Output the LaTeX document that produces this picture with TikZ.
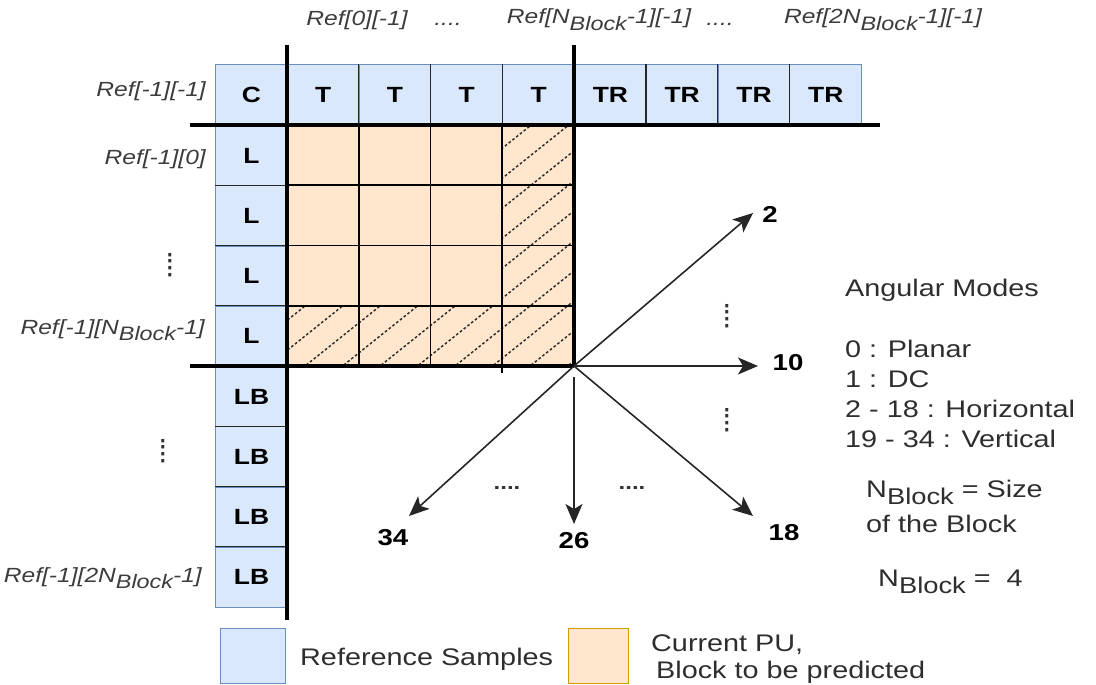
\documentclass[tikz,border=0pt]{standalone}
\usepackage{fontspec}
\setmainfont{Liberation Sans}[FakeStretch=1.2]
\usetikzlibrary{arrows.meta}
\definecolor{refblue}{HTML}{DAE8FC}
\definecolor{refblueline}{HTML}{6C8EBF}
\definecolor{puorange}{HTML}{FFE6CC}
\definecolor{puorangeline}{HTML}{D79B00}
\definecolor{txtgray}{HTML}{2E2E2E}
\definecolor{lblgray}{HTML}{3C3C3C}
\newcommand\blk{\raisebox{-0.3em}{\scalebox{0.95}{Block}}}

\begin{document}
\begin{tikzpicture}[x=1pt,y=-1pt,
  bcell/.style={draw=refblueline, fill=refblue, line width=1pt,
    minimum width=71.8pt, minimum height=60.25pt, anchor=north west,
    inner sep=0pt, font=\fontsize{22}{26}\selectfont\bfseries, text=black},
  sep/.style={draw=black!85, line width=1.4pt},
  grid/.style={draw=black, line width=1.6pt},
  axis/.style={draw=black, line width=3.2pt},
  hatch/.style={draw=black!85, line width=1.4pt, dash pattern=on 2.6pt off 2.2pt},
  reflbl/.style={font=\fontsize{20.5}{24}\selectfont\itshape, text=lblgray, inner sep=0pt},
  txt/.style={font=\fontsize{24}{30}\selectfont, text=txtgray, inner sep=0pt},
  num/.style={font=\fontsize{23}{28}\selectfont\bfseries, text=black, inner sep=0pt},
  dots/.style={font=\fontsize{20}{24}\selectfont\bfseries, text=black!80, inner sep=0pt},
  arr/.style={draw=black!85, line width=1.6pt, -{Stealth[length=20pt,width=17pt,inset=5pt]}},
]
\useasboundingbox (0,0) rectangle (1096,685);

% top row of reference samples: corner, top and top-right
\foreach \i/\t/\nm in {0/C/c,1/T/t1,2/T/t2,3/T/t3,4/T/t4,5/TR/tr1,6/TR/tr2,7/TR/tr3,8/TR/tr4}
  \node[bcell, minimum height=61pt] (\nm) at ({215+71.8*\i},64) {\t};
% left column: left and left-bottom
\foreach \j/\t/\nm in {0/L/l1,1/L/l2,2/L/l3,3/L/l4,4/LB/lb1,5/LB/lb2,6/LB/lb3,7/LB/lb4}
  \node[bcell, minimum width=72pt] (\nm) at (215,{125+60.25*\j}) {\t};

% separators between samples
\foreach \nm in {t2,t3,t4,tr2,tr3,tr4}
  \draw[sep] (\nm.north west) -- (\nm.south west);
\foreach \nm in {l2,l3,l4,lb2,lb3,lb4}
  \draw[sep] (\nm.north west) -- (\nm.north east);

% current prediction unit
\node[draw=puorangeline, fill=puorange, line width=1.2pt, minimum width=287pt,
      minimum height=241pt, anchor=north west, inner sep=0pt] (pu) at (287,125) {};

% hatched last column and last row
\begin{scope}
  \clip (502.25,125) rectangle (574,366) (287,305.75) rectangle (574,366);
  \foreach \c in {340,370,...,850}
    \draw[hatch] (280,{\c-224}) -- (580,{\c-464});
\end{scope}

% block grid
\foreach \k in {1,2}
  \draw[grid] ({287+71.75*\k},125) -- ({287+71.75*\k},366);
\draw[grid] (502.25,125) -- (502.25,373);
\foreach \k in {1,2,3}
  \draw[grid] (287,{125+60.25*\k}) -- (574,{125+60.25*\k});

% main boundary lines
\draw[axis] (287,45) -- (287,620);
\draw[axis] (574,45) -- (574,366);
\draw[axis] (190,125) -- (880,125);
\draw[axis] (190,366) -- (574,366);

% sample labels
\node[reflbl, anchor=base] (r0) at (357,26) {Ref[0][-1]};
\node[reflbl, anchor=base] (rd1) at (448,26) {....};
\node[reflbl, anchor=base] (rn) at (599,24) {Ref[N\blk-1][-1]};
\node[reflbl, anchor=base] (rd2) at (720,26) {....};
\node[reflbl, anchor=base] (r2n) at (883,24) {Ref[2N\blk-1][-1]};
\node[reflbl, anchor=base east] (rc) at (206,97) {Ref[-1][-1]};
\node[reflbl, anchor=base east] (rl0) at (206,164) {Ref[-1][0]};
\node[reflbl, anchor=base east] (rln) at (205,334) {Ref[-1][N\blk-1]};
\node[reflbl, anchor=base east] (rl2n) at (202,582) {Ref[-1][2N\blk-1]};
\node[dots, rotate=90] (ld1) at (170,265) {....};
\node[dots, rotate=90] (ld2) at (163,451) {....};

% angular prediction directions
\coordinate (o) at (574,366);
\coordinate (o26) at (574,377);
\coordinate (a2) at (753,213);
\coordinate (a10) at (758,366);
\coordinate (a18) at (753,516);
\coordinate (a26) at (574,524);
\coordinate (a34) at (409,516);
\draw[arr] (o) -- (a2);
\draw[arr] (o) -- (a10);
\draw[arr] (o) -- (a18);
\draw[arr] (o26) -- (a26);
\draw[arr] (o) -- (a34);
\node[num] (m2) at (770,214) {2};
\node[num] (m10) at (788,363) {10};
\node[num] (m18) at (784,533) {18};
\node[num] (m26) at (574,541) {26};
\node[num] (m34) at (393,538) {34};
\node[dots, rotate=90] (vd1) at (727,316) {....};
\node[dots, rotate=90] (vd2) at (727,420) {....};
\node[dots] (hd1) at (507,488) {....};
\node[dots] (hd2) at (632,488) {....};

% mode summary
\node[txt, anchor=base west] (am) at (845,296) {Angular Modes};
\node[txt, anchor=base west] (m0) at (845,357) {0 : Planar};
\node[txt, anchor=base west] (m1) at (845,387) {1 : DC};
\node[txt, anchor=base west] (mh) at (845,417) {2 - 18 : Horizontal};
\node[txt, anchor=base west] (mv) at (845,447) {19 - 34 : Vertical};
\node[txt, anchor=base west] (ns1) at (866,497) {N\blk{} = Size};
\node[txt, anchor=base west] (ns2) at (866,532) {of the Block};
\node[txt, anchor=base west] (nv) at (878,586) {N\blk{} =\ \ 4};

% legend
\node[draw=refblueline, fill=refblue, line width=1.2pt, minimum width=65pt,
      minimum height=55pt, anchor=north west, inner sep=0pt] (legref) at (220,628) {};
\node[txt, anchor=base west] (legreft) at (300,665) {Reference Samples};
\node[draw=puorangeline, fill=puorange, line width=1.2pt, minimum width=60pt,
      minimum height=55pt, anchor=north west, inner sep=0pt] (legpu) at (568,628) {};
\node[txt, anchor=base west] (legput1) at (651,651) {Current PU,};
\node[txt, anchor=base west] (legput2) at (656,678) {Block to be predicted};
\end{tikzpicture}
\end{document}
